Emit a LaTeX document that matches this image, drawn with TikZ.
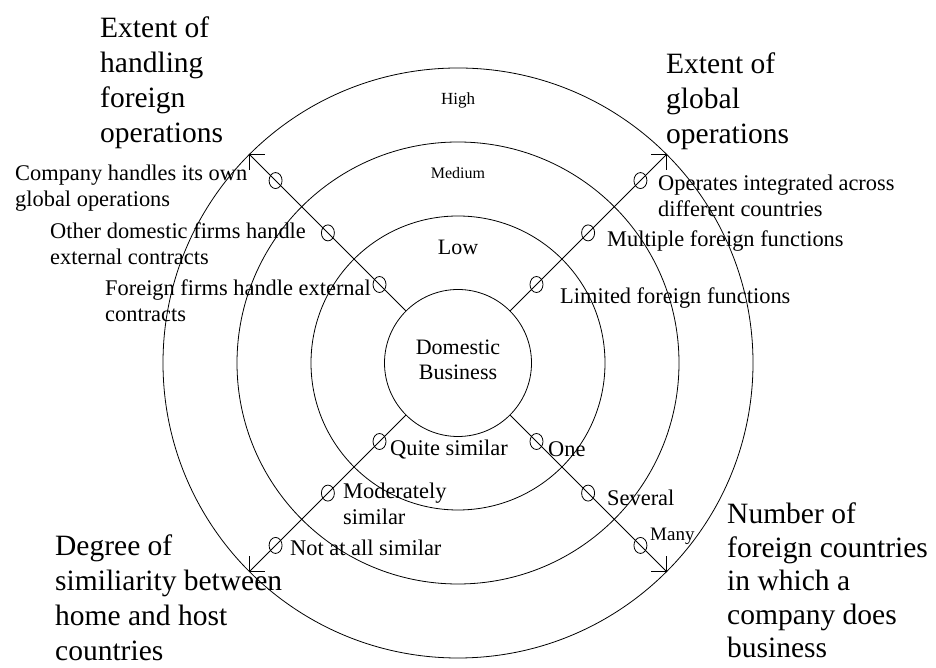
\documentclass[tikz,border=0pt]{standalone}
\usepackage{fontspec}
\setmainfont{Liberation Serif}
\usetikzlibrary{arrows.meta,calc,shapes.geometric}
\begin{document}
\begin{tikzpicture}[x=1pt,y=1pt,
  ring/.style={circle,draw,line width=0.8pt,inner sep=0pt},
  axisline/.style={line width=0.8pt,-{Straight Barb[angle=90:15pt,line width=0.8pt]}},
  marker/.style={ellipse,draw,line width=0.8pt,minimum width=13pt,minimum height=16pt,inner sep=0pt},
  big/.style={font=\fontsize{29.5}{35}\selectfont,align=left,anchor=north west,inner sep=0pt},
  small/.style={font=\fontsize{22.4}{25.5}\selectfont,align=left,anchor=north west,inner sep=0pt},
  level/.style={inner sep=0pt,align=center}
]
\fill[white] (0,0) rectangle (936,668);
\useasboundingbox (0,0) rectangle (936,668);
\coordinate (O) at (458,305);
% rings
\node[ring,minimum size=147pt] (c1) at (O) {};
\node[ring,minimum size=294pt] (c2) at (O) {};
\node[ring,minimum size=442pt] (c3) at (O) {};
\node[ring,minimum size=590pt] (c4) at (O) {};
% axes
\draw[axisline] (c1.north west) -- (c4.north west);
\draw[axisline] (c1.north east) -- (c4.north east);
\draw[axisline] (c1.south west) -- (c4.south west);
\draw[axisline] (c1.south east) -- (c4.south east);
% markers
\foreach \a/\n in {135/nw,45/ne,225/sw,315/se}{
  \node[marker] (\n1) at ($(O)+(\a:111)$) {};
  \node[marker] (\n2) at ($(O)+(\a:184)$) {};
  \node[marker] (\n3) at ($(O)+(\a:258)$) {};
}
% centre and levels
\node[level,font=\fontsize{22}{25}\selectfont] (dom) at (458,308) {Domestic\\Business};
\node[level,font=\fontsize{22}{25}\selectfont] (low) at (458,421) {Low};
\node[level,font=\fontsize{16}{19}\selectfont] (med) at (458,495) {Medium};
\node[level,font=\fontsize{17}{20}\selectfont] (high) at (458,568) {High};
% titles
\node[big] (t1) at (100,651) {Extent of\\handling\\foreign\\operations};
\node[big] (t2) at (666,615) {Extent of\\global\\operations};
\node[big] (t3) at (55,133) {Degree of\\similiarity between\\home and host\\countries};
\node[big,font=\fontsize{29.5}{33.5}\selectfont] (t4) at (727,165) {Number of\\foreign countries\\in which a\\company does\\business};
% labels
\node[small] (l1) at (15,503) {Company handles its own\\global operations};
\node[small] (l2) at (50,445) {Other domestic firms handle\\external contracts};
\node[small] (l3) at (105,388) {Foreign firms handle external\\contracts};
\node[small] (r1) at (658,493) {Operates integrated across\\different countries};
\node[small] (r2) at (607,437) {Multiple foreign functions};
\node[small] (r3) at (560,380) {Limited foreign functions};
\node[small] (s1) at (390,228) {Quite similar};
\node[small] (s2) at (343,185) {Moderately\\similar};
\node[small] (s3) at (290,128) {Not at all similar};
\node[small] (n1) at (548,227) {One};
\node[small] (n2) at (607,178) {Several};
\node[small,font=\fontsize{19}{22}\selectfont] (n3) at (650,140) {Many};
\end{tikzpicture}
\end{document}
